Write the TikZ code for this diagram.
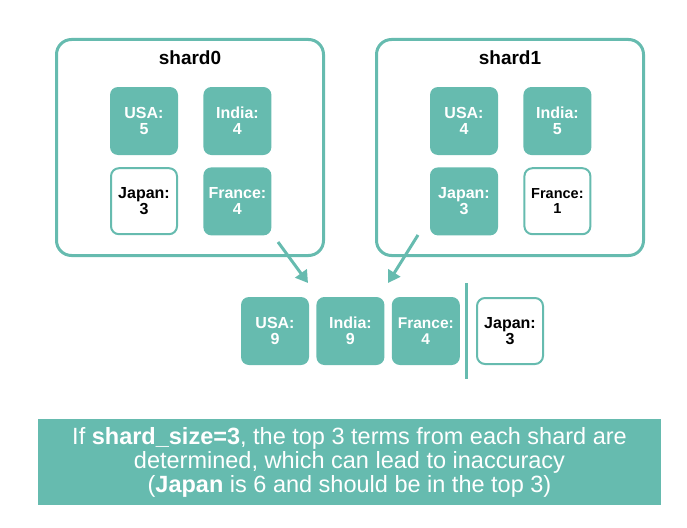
\documentclass[tikz,border=0pt]{standalone}
\usepackage{fontspec}
\setmainfont{Liberation Sans}
\usetikzlibrary{positioning,arrows.meta}
\definecolor{shardteal}{RGB}{102,187,175}

\begin{document}
\begin{tikzpicture}[
x=1pt, y=-1pt, >={Triangle[length=12pt,width=14pt]}, node distance=12pt and 25pt,
shard/.style={draw=shardteal, line width=3pt, rounded corners=15pt, minimum width=267pt, minimum height=216pt},
title/.style={font=\bfseries\fontsize{19}{19}\selectfont},
full/.style={fill=shardteal, text=white, rounded corners=8pt, minimum size=68pt, inner sep=0pt, align=center, font=\bfseries\fontsize{16}{16}\selectfont},
empty/.style={draw=shardteal, line width=2pt, fill=white, text=black, rounded corners=8pt, minimum size=66pt, inner sep=0pt, align=center, font=\bfseries\fontsize{16}{16}\selectfont},
banner/.style={fill=shardteal, text=white, minimum width=623pt, minimum height=86pt, align=center, font=\fontsize{23.5}{24}\selectfont}
]
\useasboundingbox (0,0) rectangle (687,527);
% shard0
\node[shard] (shard0) at (190,147.5) {};
\node[title] (title0) at (190,58) {shard0};
\node[full] (usa0) at (144,121) {USA:\\5};
\node[full, right=of usa0] (india0) {India:\\4};
\node[empty, below=of usa0] (japan0) {Japan:\\3};
\node[full, below=of india0] (france0) {France:\\4};
% shard1
\node[shard] (shard1) at (510,147.5) {};
\node[title] (title1) at (510,58) {shard1};
\node[full] (usa1) at (464,121) {USA:\\4};
\node[full, right=of usa1] (india1) {India:\\5};
\node[full, below=of usa1] (japan1) {Japan:\\3};
\node[empty, below=of india1, font=\bfseries\fontsize{14.5}{15}\selectfont] (france1) {France:\\1};
% merged result
\node[full] (usaR) at (275,331) {USA:\\9};
\node[full, right=7pt of usaR] (indiaR) {India:\\9};
\node[full, right=7pt of indiaR, font=\bfseries\fontsize{15.5}{16}\selectfont] (franceR) {France:\\4};
\node[empty] (japanR) at (510,331) {Japan:\\3};
\coordinate (cutTop) at (466,283);
\coordinate (cutBot) at (466,379);
\draw[shardteal, line width=3pt] (cutTop) -- (cutBot);
% arrows
\coordinate (from0) at (278,242);
\coordinate (to0) at (308,283);
\coordinate (from1) at (418,235);
\coordinate (to1) at (388,283);
\draw[->, shardteal, line width=3pt] (from0) -- (to0);
\draw[->, shardteal, line width=3pt] (from1) -- (to1);
% note
\node[banner] (note) at (349.5,462) {If \textbf{shard\_size=3}, the top 3 terms from each shard are\\determined, which can lead to inaccuracy\\(\textbf{Japan} is 6 and should be in the top 3)};
\end{tikzpicture}
\end{document}
